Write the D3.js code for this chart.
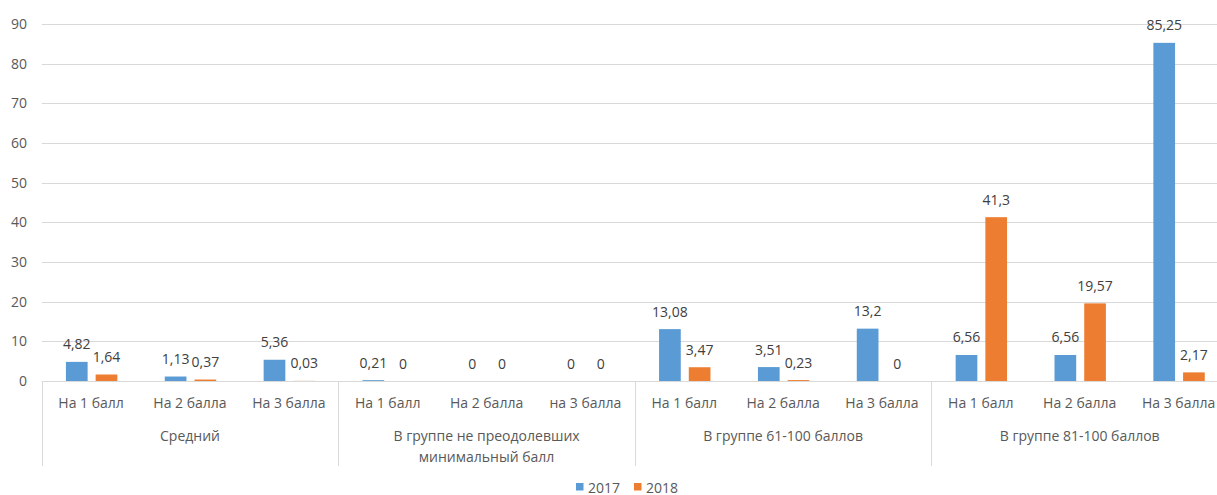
<!DOCTYPE html>
<html><head><meta charset="utf-8">
<script src="https://cdn.jsdelivr.net/npm/d3@7"></script>
<style>
html,body{margin:0;padding:0;background:#fff;overflow:hidden}
text{font-family:"Open Sans",sans-serif;}
</style></head>
<body>
<svg id="c" width="1217" height="495"></svg>
<script>
const categories = ["На 1 балл","На 2 балла","На 3 балла","На 1 балл","На 2 балла","на 3 балла","На 1 балл","На 2 балла","На 3 балла","На 1 балл","На 2 балла","На 3 балла"];
const groups = [["Средний"],["В группе не преодолевших","минимальный балл"],["В группе 61-100 баллов"],["В группе 81-100 баллов"]];
const seriesNames = ["2017","2018"];
const values2017 = [4.82,1.13,5.36,0.21,0,0,13.08,3.51,13.2,6.56,6.56,85.25];
const values2018 = [1.64,0.37,0.03,0,0,0,3.47,0.23,0,41.3,19.57,2.17];
const yTicks = [0,10,20,30,40,50,60,70,80,90];
const colors = ["#5b9bd5","#ed7d31"];

const svg = d3.select("#c");
const plotLeft = 41.7, plotRight = 1228, plotTop = 24, plotBottom = 381;
const idx = categories.map((_, i) => i);
const x = d3.scaleBand().domain(idx).range([plotLeft, plotRight]).padding(0);
const w = x.bandwidth();
const xs = d3.scaleBand().domain(seriesNames).range([0.245*w, 0.765*w]).paddingInner(0.27).paddingOuter(0);
const y = d3.scaleLinear().domain([0,90]).range([plotBottom, plotTop]);
const grid = "#d9d9d9", txt = "#595959";

// gridlines
svg.append("g").selectAll("line").data(yTicks).join("line")
  .attr("x1", plotLeft).attr("x2", 1217)
  .attr("y1", d => Math.round(y(d))+0.5).attr("y2", d => Math.round(y(d))+0.5)
  .attr("stroke", grid).attr("stroke-width", 1);

// y axis labels
const yAxis = d3.axisLeft(y).tickValues(yTicks).tickSize(0).tickPadding(0);
const ya = svg.append("g").attr("transform", `translate(${27},0)`).call(yAxis);
ya.select(".domain").remove();
ya.selectAll("text").attr("fill", txt).style("font-size","14px").style("font-family","'Open Sans',sans-serif");

// separators
const seps = [0,3,6,9];
svg.append("g").selectAll("line").data(seps).join("line")
  .attr("x1", d => Math.round(x(d))+0.5).attr("x2", d => Math.round(x(d))+0.5)
  .attr("y1", plotBottom).attr("y2", 466).attr("stroke", grid);

const series = [values2017, values2018];
series.forEach((vals, s) => {
  const g = svg.append("g");
  g.selectAll("rect").data(vals).join("rect")
    .attr("x", (d,i) => x(i) + xs(seriesNames[s]))
    .attr("width", xs.bandwidth())
    .attr("y", d => y(d))
    .attr("height", d => plotBottom - y(d))
    .attr("fill", colors[s]);
  g.selectAll("text").data(vals).join("text")
    .attr("x", (d,i) => x(i) + xs(seriesNames[s]) + xs.bandwidth()/2)
    .attr("y", d => y(d) - 18)
    .attr("text-anchor","middle").attr("dominant-baseline","central")
    .attr("fill", "#404040").style("font-size","14px")
    .text(d => String(d).replace(".", ","));
});

// category labels
svg.append("g").selectAll("text").data(categories).join("text")
  .attr("x", (d,i) => x(i) + w/2).attr("y", 402)
  .attr("text-anchor","middle").attr("dominant-baseline","central")
  .attr("fill", txt).style("font-size","14px").text(d => d);

// group labels
groups.forEach((lines, gi) => {
  const cx = x(gi*3) + 1.5*w;
  lines.forEach((l, li) => {
    svg.append("text").attr("x", cx).attr("y", 435 + li*21)
      .attr("text-anchor","middle").attr("dominant-baseline","central")
      .attr("fill", txt).style("font-size","14px").text(l);
  });
});

// legend
const legX = [576, 634];
seriesNames.forEach((n, i) => {
  svg.append("rect").attr("x", legX[i]).attr("y", 483).attr("width", 7.5).attr("height", 7.5).attr("fill", colors[i]);
  svg.append("text").attr("x", legX[i] + 12).attr("y", 487).attr("dominant-baseline","central")
    .attr("fill", txt).style("font-size","14px").text(n);
});
</script>
</body></html>
